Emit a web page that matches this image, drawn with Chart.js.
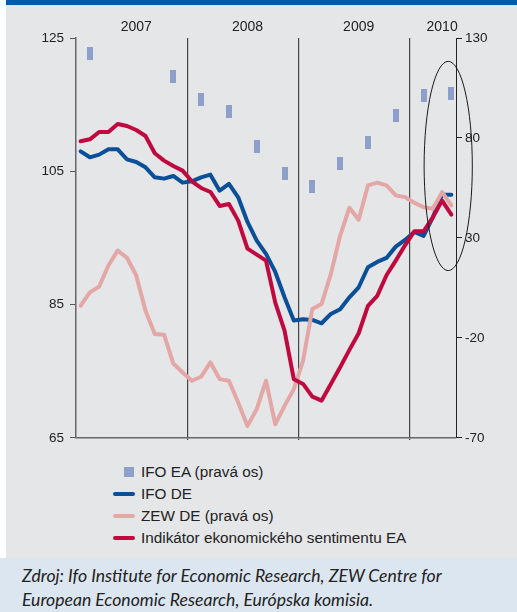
<!DOCTYPE html>
<html>
<head>
<meta charset="utf-8">
<script src="https://cdn.jsdelivr.net/npm/chart.js@4.4.1/dist/chart.umd.min.js"></script>
<style>
  body { margin:0; background:#fff; width:517px; height:612px; position:relative; overflow:hidden; font-family:"Liberation Sans", Arial, sans-serif; }
  #topbar { position:absolute; left:6px; top:0; width:511px; height:5px; background:#005ca6; }
  #panel { position:absolute; left:6px; top:5px; width:511px; height:553px; background:#e5e6e8; }
  #chart { position:absolute; left:0; top:0; }
  #legend { position:absolute; left:107px; top:456px; font-size:15.3px; color:#222; }
  #legend .row { height:22px; display:flex; align-items:center; }
  #legend .mark { width:22px; height:22px; position:relative; margin-right:6px; }
  #legend .sq { position:absolute; left:11px; top:6px; width:10px; height:10px; }
  #legend .ln { position:absolute; left:0; top:9px; width:22px; height:4px; border-radius:2px; }
  #source { position:absolute; left:0; top:558px; width:517px; height:54px; background:#dce6f1;
            font-family:Lato, "Open Sans", sans-serif; font-style:italic; font-size:17.6px; line-height:24px;
            color:#222; box-sizing:border-box; padding:6px 0 0 22px; }
</style>
</head>
<body>
<div id="topbar"></div>
<div id="panel">
  <canvas id="chart" width="511" height="447"></canvas>
  <div id="legend"></div>
</div>
<div id="source">Zdroj: Ifo Institute for Economic Research, ZEW Centre for<br>European Economic Research, Európska komisia.</div>

<script>
// monthly categories Jan 2007 - May 2010
const months = [
  '2007-01','2007-02','2007-03','2007-04','2007-05','2007-06','2007-07','2007-08','2007-09','2007-10','2007-11','2007-12',
  '2008-01','2008-02','2008-03','2008-04','2008-05','2008-06','2008-07','2008-08','2008-09','2008-10','2008-11','2008-12',
  '2009-01','2009-02','2009-03','2009-04','2009-05','2009-06','2009-07','2009-08','2009-09','2009-10','2009-11','2009-12',
  '2010-01','2010-02','2010-03','2010-04','2010-05'
];

// IFO DE (left axis)
const ifoDe = [
  108.0, 107.1, 107.5, 108.3, 108.3, 106.8, 106.4, 105.6, 104.1, 103.9, 104.3, 103.3,
  103.5, 104.1, 104.5, 102.1, 103.1, 101.1, 97.4, 94.6, 92.6, 89.9, 86.1, 82.6,
  82.8, 82.7, 82.2, 83.6, 84.3, 86.1, 87.6, 90.6, 91.4, 92.0, 93.7, 94.7,
  95.9, 95.3, 98.1, 101.5, 101.5
];

// Indikátor ekonomického sentimentu EA (left axis)
const esiEa = [
  109.5, 109.8, 110.9, 110.9, 112.1, 111.8, 111.2, 110.3, 107.7, 106.6, 105.8, 105.1,
  103.5, 102.5, 101.9, 99.8, 100.1, 97.6, 93.4, 92.5, 91.6, 85.3, 81.1, 73.8,
  73.1, 71.2, 70.6, 73.1, 75.6, 78.2, 80.7, 84.8, 86.3, 89.4, 91.6, 93.9,
  96.0, 96.0, 98.1, 100.6, 98.5
];

// ZEW DE (right axis)
const zewDe = [
  -3.8, 2.8, 5.7, 16.2, 23.7, 20.1, 11.2, -6.4, -18.0, -18.4, -32.8, -37.3,
  -41.4, -39.4, -32.2, -40.6, -41.4, -52.3, -64.0, -55.6, -41.4, -63.2, -54.0, -45.6,
  -31.4, -5.5, -3.0, 12.0, 31.2, 45.1, 39.1, 56.3, 57.7, 56.3, 51.3, 50.4,
  47.6, 45.4, 44.6, 52.9, 46.3
];

// IFO EA (right axis), quarterly
const ifoEaMonths = ['2007-02','2007-11','2008-02','2008-05','2008-08','2008-11','2009-02','2009-05','2009-08','2009-11','2010-02','2010-05'];
const ifoEa = [122.3, 110.8, 99.2, 93.2, 75.7, 62.1, 55.6, 67.3, 77.6, 91.1, 101.2, 102.3];

const yearLabels = ['2007', '2008', '2009', '2010'];
const yearLabelMonths = ['2007-07', '2008-07', '2009-07', '2010-04'];
const yearStarts = ['2008-01', '2009-01', '2010-01'];

const leftTicks = [65, 85, 105, 125];
const rightTicks = [-70, -20, 30, 80, 130];

// highlighted area (ellipse), in scale units
const ellipse = { centerIndex: 39.66, halfWidth: 2.6, top: 121.5, bottom: 90.1 };

// little vertical bar used as a marker for IFO EA
const barMark = document.createElement('canvas');
barMark.width = 6; barMark.height = 13;
const bctx = barMark.getContext('2d');
bctx.fillStyle = '#8e9fcc';
bctx.fillRect(0, 0, 6, 13);

Chart.defaults.font.family = '"Liberation Sans", Arial, sans-serif';
Chart.defaults.color = '#222';

const ellipsePlugin = {
    id: 'ellipse',
    afterDatasetsDraw(chart) {
        const xs = chart.scales.x, ys = chart.scales.y;
        const cx = xs.getPixelForValue(ellipse.centerIndex);
        const rx = xs.getPixelForValue(ellipse.centerIndex + ellipse.halfWidth) - cx;
        const top = ys.getPixelForValue(ellipse.top);
        const bot = ys.getPixelForValue(ellipse.bottom);
        const ctx = chart.ctx;
        ctx.save();
        ctx.beginPath();
        ctx.ellipse(cx, (top + bot) / 2, rx, (bot - top) / 2, 0, 0, Math.PI * 2);
        ctx.strokeStyle = '#1a1a1a';
        ctx.lineWidth = 1;
        ctx.stroke();
        ctx.restore();
    }
};

// legend list built from the datasets
const htmlLegend = {
    id: 'htmlLegend',
    afterUpdate(chart) {
        const box = document.getElementById('legend');
        box.innerHTML = chart.data.datasets.map(ds => {
            const mark = ds.showLine === false
                ? `<span class="sq" style="background:${ds.pointBackgroundColor}"></span>`
                : `<span class="ln" style="background:${ds.borderColor}"></span>`;
            return `<div class="row"><span class="mark">${mark}</span><span>${ds.label}</span></div>`;
        }).join('');
    }
};

const lineBase = { borderWidth: 4, pointRadius: 0, tension: 0, borderJoinStyle: 'round', borderCapStyle: 'round' };

new Chart(document.getElementById('chart'), {
    type: 'line',
    data: {
        labels: months,
        datasets: [
            {
                label: 'IFO EA (pravá os)',
                data: ifoEaMonths.map((m, i) => ({ x: m, y: ifoEa[i] })),
                yAxisID: 'y1',
                showLine: false,
                pointStyle: barMark,
                pointRadius: 4,
                pointBackgroundColor: '#8e9fcc',
                order: 4
            },
            Object.assign({}, lineBase, {
                label: 'IFO DE',
                data: ifoDe,
                yAxisID: 'y',
                borderColor: '#0a4f97',
                order: 3
            }),
            Object.assign({}, lineBase, {
                label: 'ZEW DE (pravá os)',
                data: zewDe,
                yAxisID: 'y1',
                borderColor: '#e3a7a6',
                order: 2
            }),
            Object.assign({}, lineBase, {
                label: 'Indikátor ekonomického sentimentu EA',
                data: esiEa,
                yAxisID: 'y',
                borderColor: '#c0093f',
                order: 1
            })
        ]
    },
    options: {
        responsive: false,
        animation: false,
        layout: { padding: 0 },
        plugins: {
            legend: { display: false },
            tooltip: { enabled: false }
        },
        scales: {
            x: {
                type: 'category',
                position: 'bottom',
                offset: true,
                grid: {
                    offset: true,
                    color: ctx => (ctx.tick && yearStarts.includes(ctx.tick.label)) ? '#444' : 'transparent',
                    lineWidth: 1.2,
                    tickLength: 2
                },
                border: { display: true, color: '#666', width: 1.5 },
                ticks: { display: false, autoSkip: false },
                afterFit: s => { s.height = 11; }
            },
            xTop: {
                type: 'category',
                position: 'top',
                offset: true,
                labels: months,
                grid: { display: false, drawTicks: false },
                border: { display: false },
                ticks: {
                    autoSkip: false,
                    maxRotation: 0,
                    padding: 2,
                    font: { size: 14 },
                    callback: function (value) {
                        const k = yearLabelMonths.indexOf(this.getLabelForValue(value));
                        return k >= 0 ? yearLabels[k] : '';
                    }
                },
                afterFit: s => { s.height = 33; }
            },
            y: {
                position: 'left',
                min: 65,
                max: 125,
                afterBuildTicks: s => { s.ticks = leftTicks.map(v => ({ value: v })); },
                grid: { drawOnChartArea: false, tickLength: 6, color: '#555' },
                border: { display: true, color: '#666', width: 1.5 },
                ticks: { padding: 6, font: { size: 13.5 } },
                afterFit: s => { s.width = 70; }
            },
            y1: {
                position: 'right',
                min: -70,
                max: 130,
                afterBuildTicks: s => { s.ticks = rightTicks.map(v => ({ value: v })); },
                grid: { drawOnChartArea: false, tickLength: 6, color: '#222' },
                border: { display: true, color: '#222', width: 1 },
                ticks: { padding: 3, font: { size: 13.5 } },
                afterFit: s => { s.width = 61; }
            }
        }
    },
    plugins: [ellipsePlugin, htmlLegend]
});
</script>
</body>
</html>
